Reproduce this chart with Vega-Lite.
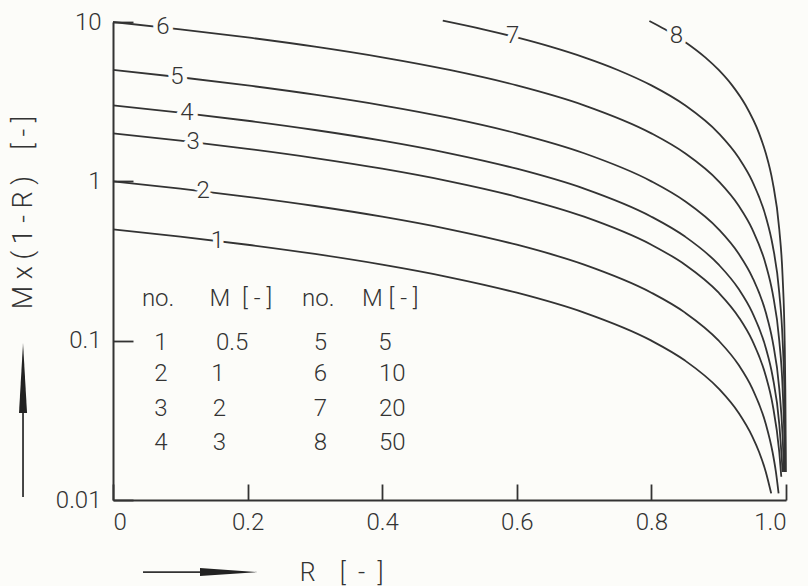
{
  "$schema": "https://vega.github.io/schema/vega-lite/v6.json",
  "width": 673,
  "height": 478,
  "autosize": {"type": "none"},
  "padding": {"left": 113, "top": 22, "right": 22, "bottom": 86},
  "background": "#fcfcf9",
  "config": {
    "view": {"stroke": null},
    "font": "Roboto",
    "text": {"font": "Roboto", "fontWeight": 300, "fontSize": 24, "color": "#333333"}
  },
  "datasets": {
    "curves": [
      {"no": 1, "R": 0, "v": 0.5}, {"no": 1, "R": 0.1, "v": 0.45}, {"no": 1, "R": 0.2, "v": 0.4}, {"no": 1, "R": 0.3, "v": 0.35},
      {"no": 1, "R": 0.4, "v": 0.3}, {"no": 1, "R": 0.5, "v": 0.25}, {"no": 1, "R": 0.6, "v": 0.2}, {"no": 1, "R": 0.7, "v": 0.15},
      {"no": 1, "R": 0.8, "v": 0.1}, {"no": 1, "R": 0.85, "v": 0.075}, {"no": 1, "R": 0.9, "v": 0.05}, {"no": 1, "R": 0.93, "v": 0.035},
      {"no": 1, "R": 0.95, "v": 0.025}, {"no": 1, "R": 0.96, "v": 0.02}, {"no": 1, "R": 0.97, "v": 0.015}, {"no": 1, "R": 0.978, "v": 0.011},

      {"no": 2, "R": 0, "v": 1}, {"no": 2, "R": 0.1, "v": 0.9}, {"no": 2, "R": 0.2, "v": 0.8}, {"no": 2, "R": 0.3, "v": 0.7},
      {"no": 2, "R": 0.4, "v": 0.6}, {"no": 2, "R": 0.5, "v": 0.5}, {"no": 2, "R": 0.6, "v": 0.4}, {"no": 2, "R": 0.7, "v": 0.3},
      {"no": 2, "R": 0.8, "v": 0.2}, {"no": 2, "R": 0.85, "v": 0.15}, {"no": 2, "R": 0.9, "v": 0.1}, {"no": 2, "R": 0.93, "v": 0.07},
      {"no": 2, "R": 0.95, "v": 0.05}, {"no": 2, "R": 0.97, "v": 0.03}, {"no": 2, "R": 0.98, "v": 0.02}, {"no": 2, "R": 0.985, "v": 0.015},
      {"no": 2, "R": 0.989, "v": 0.011},

      {"no": 3, "R": 0, "v": 2}, {"no": 3, "R": 0.1, "v": 1.8}, {"no": 3, "R": 0.2, "v": 1.6}, {"no": 3, "R": 0.3, "v": 1.4},
      {"no": 3, "R": 0.4, "v": 1.2}, {"no": 3, "R": 0.5, "v": 1}, {"no": 3, "R": 0.6, "v": 0.8}, {"no": 3, "R": 0.7, "v": 0.6},
      {"no": 3, "R": 0.8, "v": 0.4}, {"no": 3, "R": 0.85, "v": 0.3}, {"no": 3, "R": 0.9, "v": 0.2}, {"no": 3, "R": 0.93, "v": 0.14},
      {"no": 3, "R": 0.95, "v": 0.1}, {"no": 3, "R": 0.97, "v": 0.06}, {"no": 3, "R": 0.98, "v": 0.04}, {"no": 3, "R": 0.99, "v": 0.02},
      {"no": 3, "R": 0.993, "v": 0.014},

      {"no": 4, "R": 0, "v": 3}, {"no": 4, "R": 0.1, "v": 2.7}, {"no": 4, "R": 0.2, "v": 2.4}, {"no": 4, "R": 0.3, "v": 2.1},
      {"no": 4, "R": 0.4, "v": 1.8}, {"no": 4, "R": 0.5, "v": 1.5}, {"no": 4, "R": 0.6, "v": 1.2}, {"no": 4, "R": 0.7, "v": 0.9},
      {"no": 4, "R": 0.8, "v": 0.6}, {"no": 4, "R": 0.85, "v": 0.45}, {"no": 4, "R": 0.9, "v": 0.3}, {"no": 4, "R": 0.93, "v": 0.21},
      {"no": 4, "R": 0.95, "v": 0.15}, {"no": 4, "R": 0.97, "v": 0.09}, {"no": 4, "R": 0.98, "v": 0.06}, {"no": 4, "R": 0.99, "v": 0.03},
      {"no": 4, "R": 0.995, "v": 0.015},

      {"no": 5, "R": 0, "v": 5}, {"no": 5, "R": 0.1, "v": 4.5}, {"no": 5, "R": 0.2, "v": 4}, {"no": 5, "R": 0.3, "v": 3.5},
      {"no": 5, "R": 0.4, "v": 3}, {"no": 5, "R": 0.5, "v": 2.5}, {"no": 5, "R": 0.6, "v": 2}, {"no": 5, "R": 0.7, "v": 1.5},
      {"no": 5, "R": 0.8, "v": 1}, {"no": 5, "R": 0.85, "v": 0.75}, {"no": 5, "R": 0.9, "v": 0.5}, {"no": 5, "R": 0.93, "v": 0.35},
      {"no": 5, "R": 0.95, "v": 0.25}, {"no": 5, "R": 0.97, "v": 0.15}, {"no": 5, "R": 0.98, "v": 0.1}, {"no": 5, "R": 0.99, "v": 0.05},
      {"no": 5, "R": 0.995, "v": 0.025}, {"no": 5, "R": 0.997, "v": 0.015},

      {"no": 6, "R": 0, "v": 10}, {"no": 6, "R": 0.1, "v": 9}, {"no": 6, "R": 0.2, "v": 8}, {"no": 6, "R": 0.3, "v": 7},
      {"no": 6, "R": 0.4, "v": 6}, {"no": 6, "R": 0.5, "v": 5}, {"no": 6, "R": 0.6, "v": 4}, {"no": 6, "R": 0.7, "v": 3},
      {"no": 6, "R": 0.8, "v": 2}, {"no": 6, "R": 0.85, "v": 1.5}, {"no": 6, "R": 0.9, "v": 1}, {"no": 6, "R": 0.93, "v": 0.7},
      {"no": 6, "R": 0.95, "v": 0.5}, {"no": 6, "R": 0.97, "v": 0.3}, {"no": 6, "R": 0.98, "v": 0.2}, {"no": 6, "R": 0.99, "v": 0.1},
      {"no": 6, "R": 0.995, "v": 0.05}, {"no": 6, "R": 0.998, "v": 0.02}, {"no": 6, "R": 0.9985, "v": 0.015},

      {"no": 7, "R": 0.49, "v": 10.2}, {"no": 7, "R": 0.55, "v": 9}, {"no": 7, "R": 0.6, "v": 8}, {"no": 7, "R": 0.65, "v": 7},
      {"no": 7, "R": 0.7, "v": 6}, {"no": 7, "R": 0.75, "v": 5}, {"no": 7, "R": 0.8, "v": 4}, {"no": 7, "R": 0.85, "v": 3},
      {"no": 7, "R": 0.9, "v": 2}, {"no": 7, "R": 0.93, "v": 1.4}, {"no": 7, "R": 0.95, "v": 1}, {"no": 7, "R": 0.97, "v": 0.6},
      {"no": 7, "R": 0.98, "v": 0.4}, {"no": 7, "R": 0.99, "v": 0.2}, {"no": 7, "R": 0.995, "v": 0.1}, {"no": 7, "R": 0.998, "v": 0.04},
      {"no": 7, "R": 0.999, "v": 0.02}, {"no": 7, "R": 0.99925, "v": 0.015},

      {"no": 8, "R": 0.797, "v": 10.15}, {"no": 8, "R": 0.82, "v": 9}, {"no": 8, "R": 0.85, "v": 7.5}, {"no": 8, "R": 0.88, "v": 6},
      {"no": 8, "R": 0.9, "v": 5}, {"no": 8, "R": 0.92, "v": 4}, {"no": 8, "R": 0.94, "v": 3}, {"no": 8, "R": 0.96, "v": 2},
      {"no": 8, "R": 0.97, "v": 1.5}, {"no": 8, "R": 0.98, "v": 1}, {"no": 8, "R": 0.99, "v": 0.5}, {"no": 8, "R": 0.995, "v": 0.25},
      {"no": 8, "R": 0.998, "v": 0.1}, {"no": 8, "R": 0.999, "v": 0.05}, {"no": 8, "R": 0.9995, "v": 0.025}, {"no": 8, "R": 0.9997, "v": 0.015}
    ],
    "tags": [
      {"no": "1", "R": 0.155, "v": 0.4225},
      {"no": "2", "R": 0.134, "v": 0.866},
      {"no": "3", "R": 0.119, "v": 1.762},
      {"no": "4", "R": 0.11, "v": 2.67},
      {"no": "5", "R": 0.095, "v": 4.525},
      {"no": "6", "R": 0.074, "v": 9.26},
      {"no": "7", "R": 0.594, "v": 8.12},
      {"no": "8", "R": 0.837, "v": 8.15}
    ],
    "table": [
      {"text": "no.", "R": 0.067, "v": 0.1837},
      {"text": "M\u00a0\u00a0[ - ]", "R": 0.19, "v": 0.1837},
      {"text": "no.", "R": 0.305, "v": 0.1837},
      {"text": "M [ - ]", "R": 0.412, "v": 0.1837},
      {"text": "1", "R": 0.071, "v": 0.0971},
      {"text": "0.5", "R": 0.177, "v": 0.0971},
      {"text": "5", "R": 0.308, "v": 0.0971},
      {"text": "5", "R": 0.404, "v": 0.0971},
      {"text": "2", "R": 0.071, "v": 0.062},
      {"text": "1", "R": 0.156, "v": 0.062},
      {"text": "6", "R": 0.308, "v": 0.062},
      {"text": "10", "R": 0.415, "v": 0.062},
      {"text": "3", "R": 0.071, "v": 0.0374},
      {"text": "2", "R": 0.158, "v": 0.0374},
      {"text": "7", "R": 0.308, "v": 0.0374},
      {"text": "20", "R": 0.415, "v": 0.0374},
      {"text": "4", "R": 0.071, "v": 0.0228},
      {"text": "3", "R": 0.158, "v": 0.0228},
      {"text": "8", "R": 0.308, "v": 0.0228},
      {"text": "50", "R": 0.415, "v": 0.0228}
    ]
  },
  "layer": [
    {
      "data": {"name": "curves"},
      "mark": {"type": "line", "color": "#333333", "strokeWidth": 1.8, "interpolate": "monotone"},
      "encoding": {
        "x": {
          "field": "R", "type": "quantitative",
          "scale": {"domain": [0, 1], "nice": false, "zero": false},
          "axis": {
            "values": [0, 0.2, 0.4, 0.6, 0.8, 1],
            "labelExpr": "datum.value == 1 ? '1.0' : format(datum.value, '~g')",
            "grid": false,
            "domainColor": "#333333", "domainWidth": 2,
            "tickColor": "#333333", "tickWidth": 1.8, "tickSize": -16,
            "labelPadding": 26, "labelFont": "Roboto", "labelFontWeight": 300, "labelFontSize": 24, "labelColor": "#333333",
            "title": "R\u00a0\u00a0\u00a0\u00a0[\u00a0\u00a0-\u00a0\u00a0]", "titleFont": "Roboto", "titleFontWeight": 300, "titleFontSize": 25, "titleColor": "#333333",
            "titleX": 228, "titleY": 72, "titleAlign": "center", "titleBaseline": "middle"
          }
        },
        "y": {
          "field": "v", "type": "quantitative",
          "scale": {"type": "log", "domain": [0.01, 10], "nice": false},
          "axis": {
            "values": [0.01, 0.1, 1, 10],
            "format": "~g",
            "grid": false,
            "domainColor": "#333333", "domainWidth": 2,
            "tickColor": "#333333", "tickWidth": 1.8, "tickSize": -20,
            "labelPadding": 32, "labelFont": "Roboto", "labelFontWeight": 300, "labelFontSize": 24, "labelColor": "#333333",
            "title": "M x ( 1 - R )\u00a0\u00a0\u00a0\u00a0[ - ]", "titleFont": "Roboto", "titleFontWeight": 300, "titleFontSize": 27, "titleColor": "#333333",
            "titleX": -90, "titleY": 190, "titleAngle": -90, "titleAlign": "center", "titleBaseline": "middle"
          }
        },
        "detail": {"field": "no", "type": "nominal"}
      }
    },
    {
      "data": {"name": "tags"},
      "mark": {"type": "text", "stroke": "#fcfcf9", "strokeWidth": 9, "strokeJoin": "round", "fill": "#fcfcf9", "baseline": "middle"},
      "encoding": {
        "x": {"field": "R", "type": "quantitative"},
        "y": {"field": "v", "type": "quantitative"},
        "text": {"field": "no"}
      }
    },
    {
      "data": {"name": "tags"},
      "mark": {"type": "text", "baseline": "middle"},
      "encoding": {
        "x": {"field": "R", "type": "quantitative"},
        "y": {"field": "v", "type": "quantitative"},
        "text": {"field": "no"}
      }
    },
    {
      "data": {"name": "table"},
      "mark": {"type": "text", "baseline": "middle"},
      "encoding": {
        "x": {"field": "R", "type": "quantitative"},
        "y": {"field": "v", "type": "quantitative"},
        "text": {"field": "text"}
      }
    },
    {
      "data": {"values": [{}]},
      "mark": {"type": "rule", "color": "#333333", "strokeWidth": 1.8},
      "encoding": {
        "x": {"datum": 0.0446},
        "x2": {"datum": 0.19},
        "y": {"datum": 0.00353}
      }
    },
    {
      "data": {"values": [{}]},
      "mark": {"type": "point", "shape": "M-1,-0.14L1,0L-1,0.14Z", "filled": true, "color": "#222222", "opacity": 1, "size": 3364},
      "encoding": {
        "x": {"datum": 0.1724},
        "y": {"datum": 0.00353}
      }
    },
    {
      "data": {"values": [{}]},
      "mark": {"type": "rule", "color": "#333333", "strokeWidth": 1.8},
      "encoding": {
        "x": {"datum": -0.1337},
        "y": {"datum": 0.01045},
        "y2": {"datum": 0.0583}
      }
    },
    {
      "data": {"values": [{}]},
      "mark": {"type": "point", "shape": "M-0.115,1L0,-1L0.115,1Z", "filled": true, "color": "#222222", "opacity": 1, "size": 4900},
      "encoding": {
        "x": {"datum": -0.1337},
        "y": {"datum": 0.0583}
      }
    }
  ]
}
